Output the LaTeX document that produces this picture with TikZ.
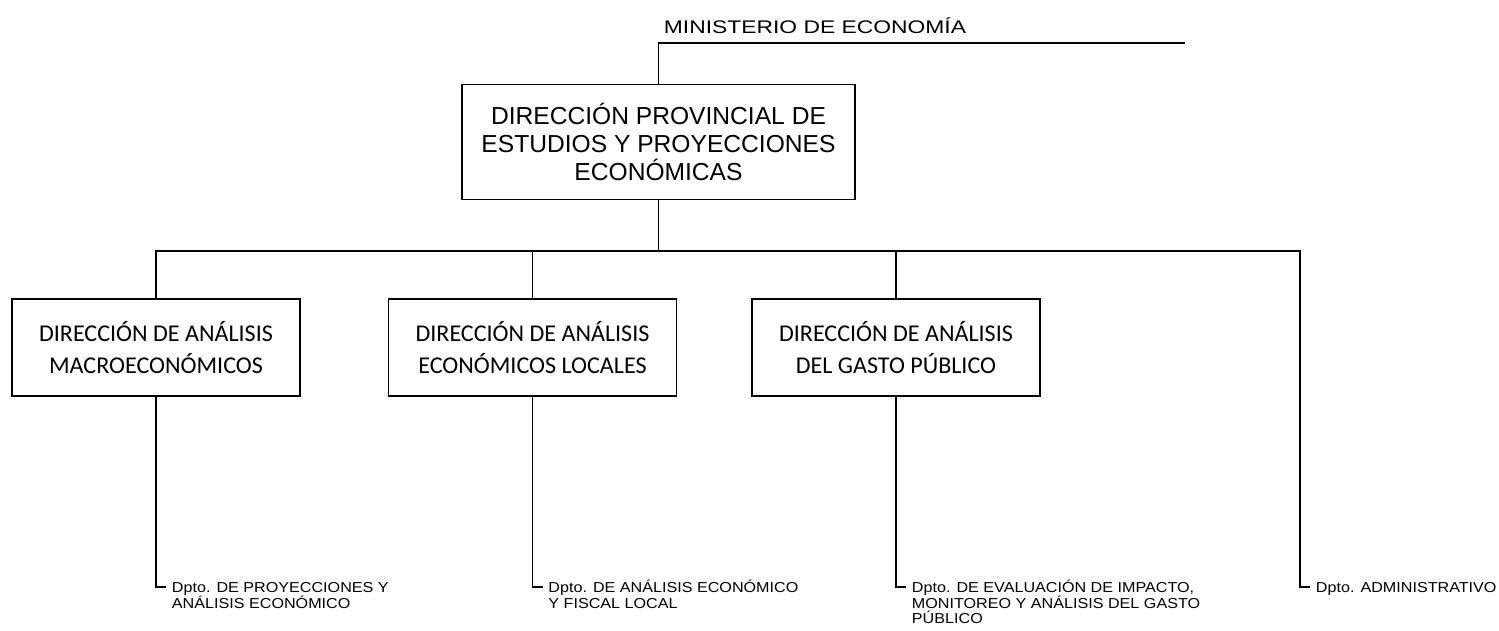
\documentclass[tikz,border=0pt]{standalone}
\usepackage{fontspec}
\setmainfont{Liberation Sans}
\newfontfamily\cajafont{Carlito}
\newfontfamily\anchofont{Liberation Sans}[FakeStretch=1.25]
\newfontfamily\dptofont{Liberation Sans}[FakeStretch=1.12]
\begin{document}
\begin{tikzpicture}[line width=1.1pt,
	top/.style={draw, minimum width=7.86cm, minimum height=2.3cm, inner sep=0pt, align=center, font=\fontsize{14}{15.8}\selectfont},
	caja/.style={draw, minimum width=5.76cm, minimum height=1.94cm, inner sep=0pt, align=center, font=\cajafont\fontsize{13.7}{18.2}\selectfont},
	dpto/.style={anchor=base west, inner sep=0.1cm, align=left, font=\dptofont\fontsize{8.2}{9.1}\selectfont}]
	\useasboundingbox (0,0) rectangle (29.98,-12.6);

	\node[anchor=base, font=\anchofont\fontsize{10.4}{12}\selectfont] (M) at (16.3,-0.66) {MINISTERIO DE ECONOMÍA};
	\coordinate (M1) at (23.7,-0.86);
	\node[top] (D0) at (13.17,-2.84) {DIRECCIÓN PROVINCIAL DE\\ESTUDIOS Y PROYECCIONES\\ECONÓMICAS};

	\node[caja] (C1) at (3.12,-6.95) {DIRECCIÓN DE ANÁLISIS\\MACROECONÓMICOS};
	\node[caja] (C2) at (10.65,-6.95) {DIRECCIÓN DE ANÁLISIS\\ECONÓMICOS LOCALES};
	\node[caja] (C3) at (17.92,-6.95) {DIRECCIÓN DE ANÁLISIS\\DEL GASTO PÚBLICO};

	\coordinate (B3) at (26,-5.02);
	\coordinate (S1) at (3.32,-11.74);
	\coordinate (S2) at (10.85,-11.74);
	\coordinate (S3) at (18.12,-11.74);
	\coordinate (S4) at (26.2,-11.74);

	% base = ultima linea
	\node[dpto] (P1) at ([yshift=-9.1pt-0.1cm]S1) {Dpto. DE PROYECCIONES Y\\ANÁLISIS ECONÓMICO};
	\node[dpto] (P2) at ([yshift=-9.1pt-0.1cm]S2) {Dpto. DE ANÁLISIS ECONÓMICO\\Y FISCAL LOCAL};
	\node[dpto] (P3) at ([yshift=-18.2pt-0.1cm]S3) {Dpto. DE EVALUACIÓN DE IMPACTO,\\MONITOREO Y ANÁLISIS DEL GASTO\\PÚBLICO};
	\node[dpto] (P4) at ([yshift=-0.1cm]S4) {Dpto. ADMINISTRATIVO};

	% lineas
	\draw (D0.north) |- (M1);
	\draw (D0.south) -- (D0.south |- B3);
	\draw (C1.north) |- (B3) |- (S4);
	\draw (C2.north) -- (C2.north |- B3);
	\draw (C3.north) -- (C3.north |- B3);
	\draw (C1.south) |- (S1);
	\draw (C2.south) |- (S2);
	\draw (C3.south) |- (S3);
\end{tikzpicture}
\end{document}
